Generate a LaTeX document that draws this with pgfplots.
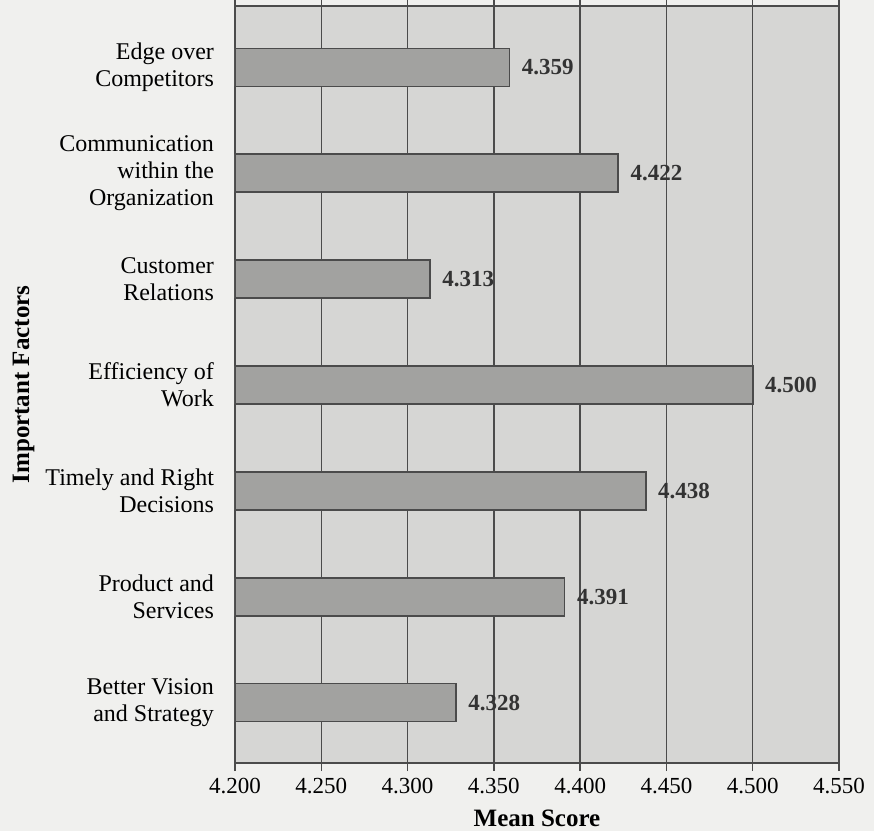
\documentclass[border=0pt]{standalone}
\usepackage{pgfplots}
\pgfplotsset{compat=1.18}
\usepackage{fontspec}
\setmainfont{Liberation Serif}
\definecolor{pagebg}{RGB}{240,240,238}
\definecolor{plotbg}{RGB}{214,214,212}
\definecolor{barfill}{RGB}{162,162,160}
\definecolor{linecol}{RGB}{75,75,75}
\begin{document}
\begin{tikzpicture}
\fill[pagebg] (-117.5pt,-34pt) rectangle (319.5pt,381.5pt);
\useasboundingbox (-117.5pt,-34pt) rectangle (319.5pt,381.5pt);
\begin{axis}[
  at={(0,0)}, anchor=south west,
  scale only axis, width=302pt, height=378.5pt,
  xbar, bar width=19pt,
  xmin=4.2, xmax=4.55, ymin=-0.57, ymax=6.58,
  xtick={4.2,4.25,4.3,4.35,4.4,4.45,4.5,4.55},
  /pgf/number format/assume math mode=true,
  xticklabel style={/pgf/number format/.cd, fixed, fixed zerofill, precision=3, /tikz/.cd, font=\fontsize{11.5}{13}\selectfont, yshift=0pt},
  ytick={0,...,6},
  yticklabels={Better Vision\\and Strategy, Product and\\Services, Timely and Right\\Decisions, Efficiency of\\Work, Customer\\Relations, Communication\\within the\\Organization, Edge over\\Competitors},
  yticklabel style={align=right, font=\fontsize{12}{13.5}\selectfont, xshift=-3pt},
  ytick style={draw=none},
  xtick style={linecol, line width=0.7pt},
  tick align=outside, major tick length=4pt,
  xmajorgrids, major grid style={linecol, line width=0.75pt},
  axis line style={linecol, line width=0.8pt},
  axis background/.style={fill=plotbg},
  xlabel={Mean Score},
  xlabel style={font=\bfseries\fontsize{12.5}{14}\selectfont, at={(axis description cs:0.5,0)}, anchor=center, yshift=-27.5pt},
  ylabel={Important Factors},
  ylabel style={font=\bfseries\fontsize{12.5}{14}\selectfont, at={(axis description cs:-0.35,0.5)}, anchor=center},
  point meta=x,
  nodes near coords={\pgfmathprintnumber[fixed,fixed zerofill,precision=3]{\pgfplotspointmeta}},
  nodes near coords style={anchor=west, font=\bfseries\fontsize{11.5}{13}\selectfont, text=black!80, xshift=2.5pt},
]
\addplot[fill=barfill, draw=linecol, line width=0.8pt] coordinates {
  (4.328,0) (4.391,1) (4.438,2) (4.500,3) (4.313,4) (4.422,5) (4.359,6)};
\end{axis}
\end{tikzpicture}
\end{document}
